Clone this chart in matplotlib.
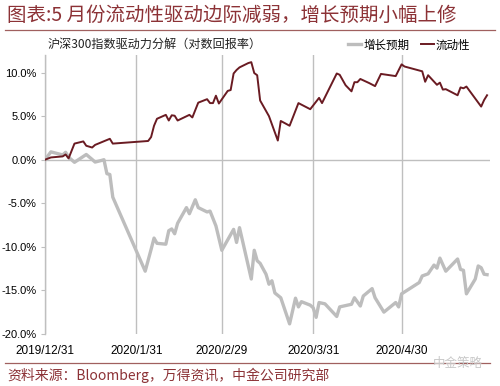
"""Recreate the CSI 300 driver decomposition chart (growth vs liquidity)."""

import matplotlib.pyplot as plt
import pandas as pd
from matplotlib.lines import Line2D

plt.rcParams["font.family"] = ["Noto Sans CJK SC", "DejaVu Sans"]

TITLE = "图表:5 月份流动性驱动边际减弱，增长预期小幅上修"
SUBTITLE = "沪深300指数驱动力分解（对数回报率）"
SOURCE = "资料来源：Bloomberg，万得资讯，中金公司研究部"
SERIES_NAMES = ["增长预期", "流动性"]

# liquidity (%, log return)
liq_dates = [
    "2019-12-31", "2020-01-02", "2020-01-06", "2020-01-07", "2020-01-08",
    "2020-01-10", "2020-01-13", "2020-01-14", "2020-01-16", "2020-01-17",
    "2020-01-22", "2020-01-23", "2020-02-04", "2020-02-05", "2020-02-06",
    "2020-02-07", "2020-02-10", "2020-02-11", "2020-02-12", "2020-02-13",
    "2020-02-14", "2020-02-18", "2020-02-19", "2020-02-21", "2020-02-24",
    "2020-02-25", "2020-02-26", "2020-02-27", "2020-02-28", "2020-03-02",
    "2020-03-03", "2020-03-04", "2020-03-05", "2020-03-06", "2020-03-09",
    "2020-03-10", "2020-03-11", "2020-03-12", "2020-03-13", "2020-03-16",
    "2020-03-19", "2020-03-20", "2020-03-23", "2020-03-26", "2020-03-30",
    "2020-04-02", "2020-04-03", "2020-04-08", "2020-04-09", "2020-04-11",
    "2020-04-13", "2020-04-14", "2020-04-15", "2020-04-16", "2020-04-19",
    "2020-04-21", "2020-04-23", "2020-04-28", "2020-04-30", "2020-05-01",
    "2020-05-07", "2020-05-08", "2020-05-09", "2020-05-12", "2020-05-13",
    "2020-05-14", "2020-05-15", "2020-05-19", "2020-05-20", "2020-05-21",
    "2020-05-22", "2020-05-27", "2020-05-28", "2020-05-29",
]
liq_values = [
    0.0, 0.26, 0.38, 0.6, 0.15,
    1.85, 2.1, 1.6, 1.4, 1.7,
    2.4, 1.85, 2.15, 2.6, 3.9,
    4.7, 5.15, 4.5, 5.1, 5.05,
    4.5, 5.15, 4.85, 6.55, 6.95,
    6.5, 6.5, 7.35, 6.45, 7.9,
    8.0, 9.9, 10.3, 10.6, 11.1,
    11.2, 9.95, 9.7, 6.8, 5.0,
    2.2, 4.45, 3.9, 6.5, 5.8,
    7.1, 6.5, 9.9, 9.75, 8.55,
    7.85, 8.9, 8.9, 9.27, 8.8,
    8.45, 9.85, 9.6, 10.95, 10.7,
    10.15, 8.95, 9.7, 8.6, 8.85,
    8.05, 8.1, 7.4, 8.3, 8.2,
    8.4, 6.1, 6.85, 7.4,
]

# growth expectations (%, log return)
growth_dates = [
    "2019-12-31", "2020-01-02", "2020-01-06", "2020-01-07", "2020-01-08",
    "2020-01-10", "2020-01-14", "2020-01-16", "2020-01-17", "2020-01-19",
    "2020-01-20", "2020-01-21", "2020-01-22", "2020-01-23", "2020-02-03",
    "2020-02-05", "2020-02-06", "2020-02-07", "2020-02-10", "2020-02-11",
    "2020-02-12", "2020-02-13", "2020-02-14", "2020-02-17", "2020-02-18",
    "2020-02-20", "2020-02-21", "2020-02-24", "2020-02-25", "2020-02-27",
    "2020-02-29", "2020-03-04", "2020-03-05", "2020-03-06", "2020-03-10",
    "2020-03-11", "2020-03-12", "2020-03-13", "2020-03-15", "2020-03-16",
    "2020-03-17", "2020-03-18", "2020-03-20", "2020-03-23", "2020-03-25",
    "2020-03-26", "2020-03-27", "2020-03-30", "2020-03-31", "2020-04-01",
    "2020-04-02", "2020-04-04", "2020-04-08", "2020-04-09", "2020-04-13",
    "2020-04-14", "2020-04-16", "2020-04-17", "2020-04-20", "2020-04-21",
    "2020-04-24", "2020-04-28", "2020-04-29", "2020-04-30", "2020-05-06",
    "2020-05-07", "2020-05-09", "2020-05-11", "2020-05-12", "2020-05-13",
    "2020-05-15", "2020-05-19", "2020-05-20", "2020-05-21", "2020-05-22",
    "2020-05-25", "2020-05-26", "2020-05-27", "2020-05-28", "2020-05-29",
]
growth_values = [
    0.0, 0.9, 0.55, 0.85, 0.3,
    -0.3, 0.6, 0.03, -0.27, -0.1,
    0.0, -1.6, -1.7, -4.3, -12.8,
    -10.3, -9.0, -9.6, -9.7, -8.15,
    -7.95, -8.5, -7.3, -5.5, -6.2,
    -4.6, -5.5, -6.0, -5.9, -7.6,
    -10.4, -8.0, -9.5, -7.8, -13.7,
    -10.4, -11.6, -11.9, -13.15, -14.3,
    -13.9, -15.3, -15.85, -18.85, -15.9,
    -16.9, -16.3, -16.7, -17.0, -18.1,
    -16.4, -16.55, -18.0, -16.9, -16.6,
    -15.85, -16.8, -15.65, -14.8, -15.85,
    -17.5, -16.4, -16.9, -15.4, -14.1,
    -13.35, -13.1, -12.1, -12.45, -11.3,
    -12.8, -11.4, -12.6, -12.7, -15.4,
    -13.7, -12.2, -12.4, -13.15, -13.2,
]

tick_dates = ["2019-12-31", "2020-01-31", "2020-02-29", "2020-03-31", "2020-04-30"]
tick_labels = ["2019/12/31", "2020/1/31", "2020/2/29", "2020/3/31", "2020/4/30"]
y_ticks = [-20, -15, -10, -5, 0, 5, 10]

DARK_RED = "#8c3236"
LIQ_COLOR = "#6a1b22"
GROWTH_COLOR = "#bdbdbd"
GRID_COLOR = "#bfbfbf"

fig = plt.figure(figsize=(5.0, 3.86), dpi=100)
ax = fig.add_axes([0.09, 0.135, 0.89, 0.722])

ax.plot(pd.to_datetime(growth_dates), growth_values, color=GROWTH_COLOR,
        linewidth=2.4, solid_joinstyle="round", zorder=3)
ax.plot(pd.to_datetime(liq_dates), liq_values, color=LIQ_COLOR,
        linewidth=1.4, solid_joinstyle="round", zorder=4)

ax.set_ylim(-20, 12)
ax.set_xlim(pd.Timestamp("2019-12-31"), pd.Timestamp("2020-05-30"))
ax.axhline(0, color=GRID_COLOR, linewidth=1.0, zorder=1)

ax.set_xticks(pd.to_datetime(tick_dates))
ax.set_xticklabels(tick_labels, family="Liberation Sans")
ax.tick_params(axis="x", length=0, pad=8, labelsize=8.5)
ax.grid(axis="x", color=GRID_COLOR, linewidth=1.0)

ax.set_yticks(y_ticks)
ax.set_yticklabels([f"{v:.1f}%" for v in y_ticks], family="Liberation Sans")
ax.tick_params(axis="y", direction="out", length=3, color=GRID_COLOR,
               labelsize=8, pad=3)

for side in ("top", "right", "bottom"):
    ax.spines[side].set_visible(False)
ax.spines["left"].set_color(GRID_COLOR)
ax.spines["left"].set_linewidth(1.0)

# header and footer
fig.text(0.014, 1 - 15 / 386, TITLE, fontsize=14, color=DARK_RED,
         ha="left", va="center")
fig.add_artist(Line2D([0.01, 0.99], [1 - 30 / 386] * 2, color="#a0605f",
                      linewidth=0.9))
fig.text(0.096, 1 - 44 / 386, SUBTITLE, fontsize=8.7, color="#222222",
         ha="left", va="center")

handles = [Line2D([], [], color=GROWTH_COLOR, linewidth=2.4),
           Line2D([], [], color=LIQ_COLOR, linewidth=1.4)]
fig.legend(handles, SERIES_NAMES, loc="center right",
           bbox_to_anchor=(0.95, 1 - 45 / 386), ncol=2, frameon=False,
           fontsize=8.3, handlelength=1.1, handletextpad=0.2,
           columnspacing=1.0, borderaxespad=0)

fig.add_artist(Line2D([0.01, 0.98], [1 - 362.5 / 386] * 2, color="#a0605f",
                      linewidth=0.9))
fig.text(0.014, 1 - 375 / 386, SOURCE, fontsize=10, color=DARK_RED,
         ha="left", va="center")
fig.text(0.965, 1 - 363 / 386, "中金策略", fontsize=9, color="#c8c8c8",
         ha="right", va="center")

fig.savefig("out.png", dpi=100)
